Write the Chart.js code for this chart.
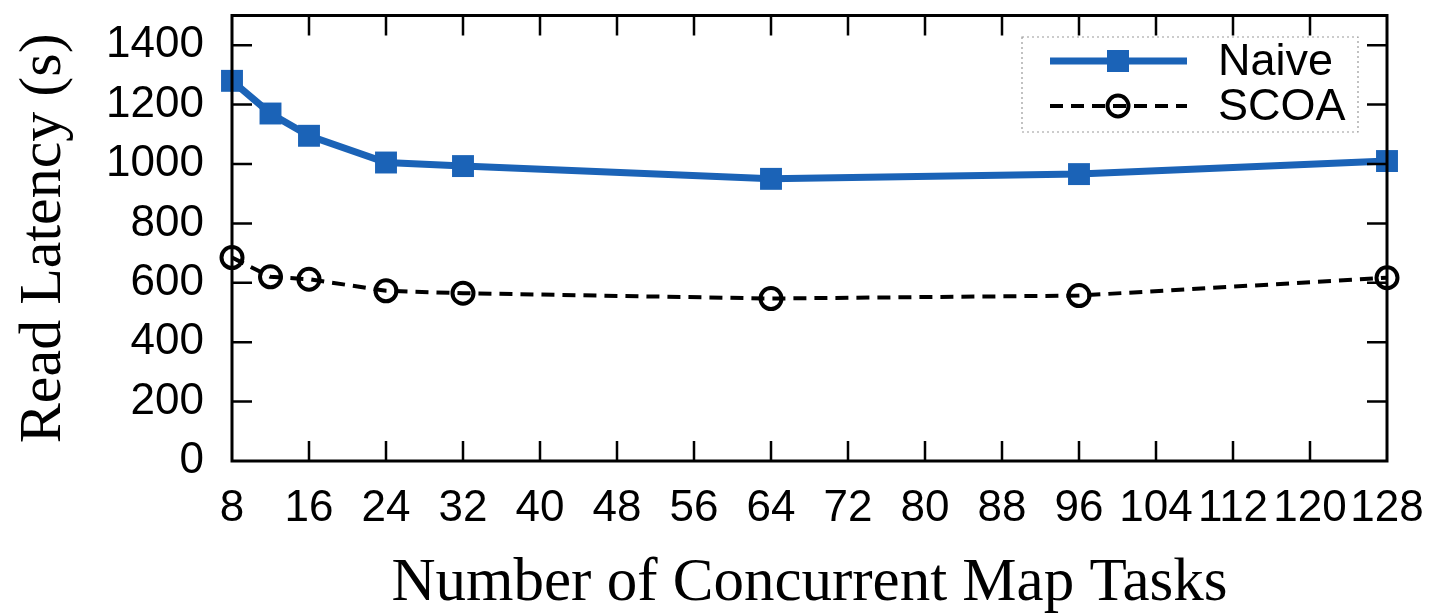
<!DOCTYPE html>
<html><head><meta charset="utf-8">
<script src="https://cdn.jsdelivr.net/npm/chart.js@4/dist/chart.umd.min.js"></script>
<style>html,body{margin:0;padding:0;background:#fff}#wrap{width:1430px;height:613px}</style>
</head><body><div id="wrap"><canvas id="c" width="1430" height="613"></canvas></div>
<script>
const mapTasks = [8, 12, 16, 24, 32, 64, 96, 128];
const naive = [1280, 1170, 1095, 1005, 993, 950, 966, 1010];
const scoa = [685, 620, 612, 573, 565, 547, 557, 617];
const xTicks = [8,16,24,32,40,48,56,64,72,80,88,96,104,112,120,128];
const yTicks = [0,200,400,600,800,1000,1200,1400];

const BLUE = '#1b63b7';
const SANS = '"Liberation Sans", Arial, sans-serif';
const SERIF = '"Liberation Serif", "Times New Roman", serif';

const framePlugin = {
  id: 'frame',
  afterDatasetsDraw(chart) {
    const ctx = chart.ctx, a = chart.chartArea;
    const xs = chart.scales.x, ys = chart.scales.y;
    ctx.save();
    ctx.strokeStyle = '#000';
    ctx.lineWidth = 3;
    ctx.strokeRect(a.left, a.top, a.right - a.left, a.bottom - a.top);
    ctx.lineWidth = 2.5;
    ctx.beginPath();
    const tl = 20;
    xTicks.forEach(v => {
      if (v === xs.min || v === xs.max) return;
      const px = xs.getPixelForValue(v);
      ctx.moveTo(px, a.bottom); ctx.lineTo(px, a.bottom - tl);
      ctx.moveTo(px, a.top); ctx.lineTo(px, a.top + tl);
    });
    yTicks.forEach(v => {
      if (v === ys.min) return;
      const py = ys.getPixelForValue(v);
      ctx.moveTo(a.left, py); ctx.lineTo(a.left + tl, py);
      ctx.moveTo(a.right, py); ctx.lineTo(a.right - tl, py);
    });
    ctx.stroke();
    ctx.restore();
  },
  afterDraw(chart) {
    const ctx = chart.ctx;
    ctx.save();
    const bx = 1022, by = 37, bw = 336, bh = 95;
    ctx.strokeStyle = '#999';
    ctx.lineWidth = 1.2;
    ctx.setLineDash([2, 3]);
    ctx.strokeRect(bx, by, bw, bh);
    ctx.setLineDash([]);
    const rows = [{ds: chart.data.datasets[0], y: 61}, {ds: chart.data.datasets[1], y: 106}];
    rows.forEach(r => {
      const d = r.ds;
      ctx.strokeStyle = d.borderColor;
      ctx.lineWidth = d.borderWidth;
      ctx.setLineDash(d.borderDash || []);
      ctx.beginPath(); ctx.moveTo(1050, r.y); ctx.lineTo(1187, r.y); ctx.stroke();
      ctx.setLineDash([]);
      const mx = 1118;
      if (d.pointStyle === 'rect') {
        ctx.fillStyle = d.pointBackgroundColor;
        ctx.fillRect(mx - 11, r.y - 11, 22, 22);
      } else {
        ctx.lineWidth = d.pointBorderWidth;
        ctx.strokeStyle = d.pointBorderColor;
        ctx.beginPath(); ctx.arc(mx, r.y, d.pointRadius, 0, Math.PI * 2); ctx.stroke();
      }
      ctx.fillStyle = '#000';
      ctx.font = '45px ' + SANS;
      ctx.textBaseline = 'middle';
      ctx.textAlign = 'left';
      ctx.fillText(d.label, 1218, r.y + 2);
    });
    ctx.restore();
  }
};

new Chart(document.getElementById('c'), {
  type: 'line',
  data: {
    datasets: [
      {
        label: 'Naive',
        data: mapTasks.map((x, i) => ({x, y: naive[i]})),
        borderColor: BLUE, borderWidth: 7,
        pointStyle: 'rect', pointRadius: 15.5, pointBackgroundColor: BLUE, pointBorderColor: BLUE, pointBorderWidth: 0,
        tension: 0, clip: false
      },
      {
        label: 'SCOA',
        data: mapTasks.map((x, i) => ({x, y: scoa[i]})),
        borderColor: '#000', borderWidth: 4, borderDash: [13, 8],
        pointStyle: 'circle', pointRadius: 10.5, pointBackgroundColor: 'rgba(255,255,255,0)', pointBorderColor: '#000', pointBorderWidth: 4,
        tension: 0, clip: false
      }
    ]
  },
  options: {
    responsive: false, animation: false, devicePixelRatio: 1,
    layout: {padding: {left: 0, right: 43, top: 15, bottom: 0}},
    plugins: {legend: {display: false}, tooltip: {enabled: false}},
    scales: {
      x: {
        type: 'linear', min: 8, max: 128,
        afterBuildTicks: s => { s.ticks = xTicks.map(v => ({value: v})); },
        afterFit: s => { s.height = 152; s.paddingLeft = 0; s.paddingRight = 0; },
        grid: {display: false, drawTicks: false}, border: {display: false},
        ticks: {color: '#000', font: {family: SANS, size: 44}, padding: 21, maxRotation: 0, autoSkip: false,
          callback: v => String(v)},
        title: {display: true, text: 'Number of Concurrent Map Tasks', color: '#000',
          font: {family: SERIF, size: 61, lineHeight: 0.95}, padding: {top: 0, bottom: 0}}
      },
      y: {
        type: 'linear', min: 0, max: 1500,
        afterBuildTicks: s => { s.ticks = yTicks.map(v => ({value: v})); },
        afterFit: s => { s.width = 232; s.paddingTop = 0; s.paddingBottom = 0; },
        grid: {display: false, drawTicks: false}, border: {display: false},
        ticks: {color: '#000', font: {family: SANS, size: 44}, padding: 28, callback: v => String(v)},
        title: {display: true, text: 'Read Latency (s)', color: '#000',
          font: {family: SERIF, size: 60}, padding: {top: 8, bottom: 0}}
      }
    }
  },
  plugins: [framePlugin]
});
</script>
</body></html>
